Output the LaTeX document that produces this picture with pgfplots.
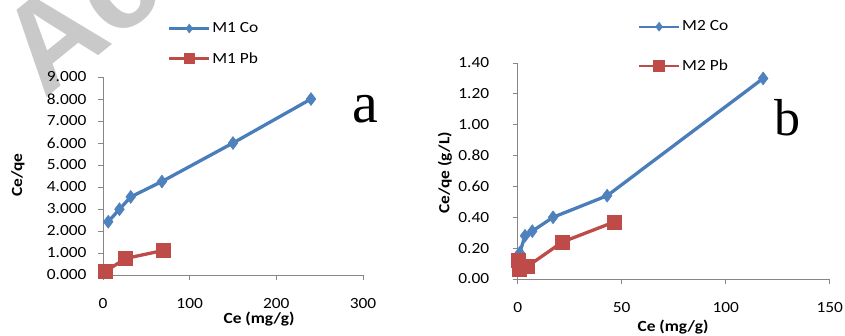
\documentclass[border=0pt]{standalone}
\usepackage{fontspec}
\setmainfont{Carlito}[FakeStretch=1.12]
\newfontfamily\seriffont{Liberation Serif}
\newfontfamily\wmfont{Liberation Sans}
\usepackage{pgfplots}
\pgfplotsset{compat=1.18}
\definecolor{cblue}{HTML}{4A7EBB}
\definecolor{cbluef}{HTML}{4F81BD}
\definecolor{cred}{HTML}{BE4B48}
\definecolor{axgray}{HTML}{868686}
\definecolor{wmgray}{HTML}{C9C9C9}
\pgfplotsset{
  mystyle/.style={
    scale only axis, axis lines=left,
    axis line style={-, axgray, line width=0.8pt},
    tick style={axgray, line width=0.8pt},
    tick align=outside, major tick length=5pt,
    ticklabel style={font=\fontsize{15.5}{15.5}\selectfont, text=black},
    /pgf/number format/assume math mode=true,
    clip=false,
    legend style={draw=none, fill=none, font=\fontsize{15.5}{15.5}\selectfont,
      anchor=north west, row sep=14pt, inner sep=0pt},
    legend cell align=left,
    legend image code/.code={\draw[mark repeat=2, mark phase=2, #1] plot coordinates {(0pt,0pt) (20pt,0pt) (40pt,0pt)};},
  },
  coline/.style={cblue, line width=3.3pt, mark=diamond*, mark size=6.5pt, mark options={fill=cbluef, draw=cbluef, line width=0.5pt}},
  pbline/.style={cred, line width=3.3pt, mark=square*, mark size=7pt, mark options={fill=cred, draw=cred, line width=0.5pt}},
}
\begin{document}
\begin{tikzpicture}[x=1pt,y=1pt]
\useasboundingbox (0,0) rectangle (845,335);
% watermark
\node[text=wmgray, rotate=39, anchor=base west, font=\wmfont\bfseries\fontsize{126}{126}\selectfont, inner sep=0pt] at (44,235) {Ac};

\begin{axis}[mystyle, at={(103pt,60pt)}, anchor=south west,
  width=260pt, height=198pt,
  xmin=0, xmax=300, ymin=0, ymax=9,
  xtick={0,100,200,300}, ytick={0,1,...,9},
  yticklabel style={/pgf/number format/fixed, /pgf/number format/zerofill, /pgf/number format/precision=3, xshift=-8pt},
  xticklabel style={yshift=-15pt},
  legend style={at={(0.25,1.285)}},
]
\addlegendimage{cblue, line width=2.2pt, mark=diamond*, mark size=4.5pt, mark options={fill=cbluef, draw=cbluef, line width=0.5pt}}
\addlegendentry{M1 Co}
\addlegendimage{cred, line width=2.2pt, mark=square*, mark size=5pt, mark options={fill=cred, draw=cred, line width=0.5pt}}
\addlegendentry{M1 Pb}
\addplot[coline, forget plot] coordinates {(6,2.42) (19,2.99) (32,3.55) (68,4.25) (150,6.0) (240,8.0)};
\addplot[pbline, forget plot] coordinates {(3,0.17) (26,0.75) (70,1.12)};
\end{axis}

\begin{axis}[mystyle, at={(517.7pt,56pt)}, anchor=south west,
  width=312pt, height=216pt,
  xmin=0, xmax=150, ymin=0, ymax=1.4,
  xtick={0,50,100,150}, ytick={0,0.2,...,1.4},
  yticklabel style={/pgf/number format/fixed, /pgf/number format/zerofill, /pgf/number format/precision=2, xshift=-20pt},
  xticklabel style={yshift=-15pt},
  legend style={at={(0.385,1.205)}, row sep=23pt},
]
\addlegendimage{cblue, line width=2.2pt, mark=diamond*, mark size=4.5pt, mark options={fill=cbluef, draw=cbluef, line width=0.5pt}}
\addlegendentry{M2 Co}
\addlegendimage{cred, line width=2.2pt, mark=square*, mark size=5.5pt, mark options={fill=cred, draw=cred, line width=0.5pt}}
\addlegendentry{M2 Pb}
\addplot[coline, forget plot] coordinates {(1,0.17) (3.5,0.28) (7,0.31) (17,0.40) (43,0.54) (118,1.30)};
\addplot[pbline, forget plot] coordinates {(0.5,0.12) (0.8,0.06) (4.5,0.08) (21.5,0.24) (46.5,0.37)};
\end{axis}

% axis labels
\node[rotate=90, font=\bfseries\fontsize{15.5}{15.5}\selectfont] at (18,160) {Ce/qe};
\node[font=\bfseries\fontsize{15.5}{15.5}\selectfont] at (259,16) {Ce (mg/g)};
\node[rotate=90, font=\bfseries\fontsize{15.5}{15.5}\selectfont] at (445,162) {Ce/qe (g/L)};
\node[font=\bfseries\fontsize{15.5}{15.5}\selectfont] at (673,8) {Ce (mg/g)};
% panel letters
\node[font=\seriffont\fontsize{58}{58}\selectfont, inner sep=0pt] at (365,226) {a};
\node[font=\seriffont\fontsize{52}{52}\selectfont, inner sep=0pt] at (787.5,217.5) {b};
\end{tikzpicture}
\end{document}
